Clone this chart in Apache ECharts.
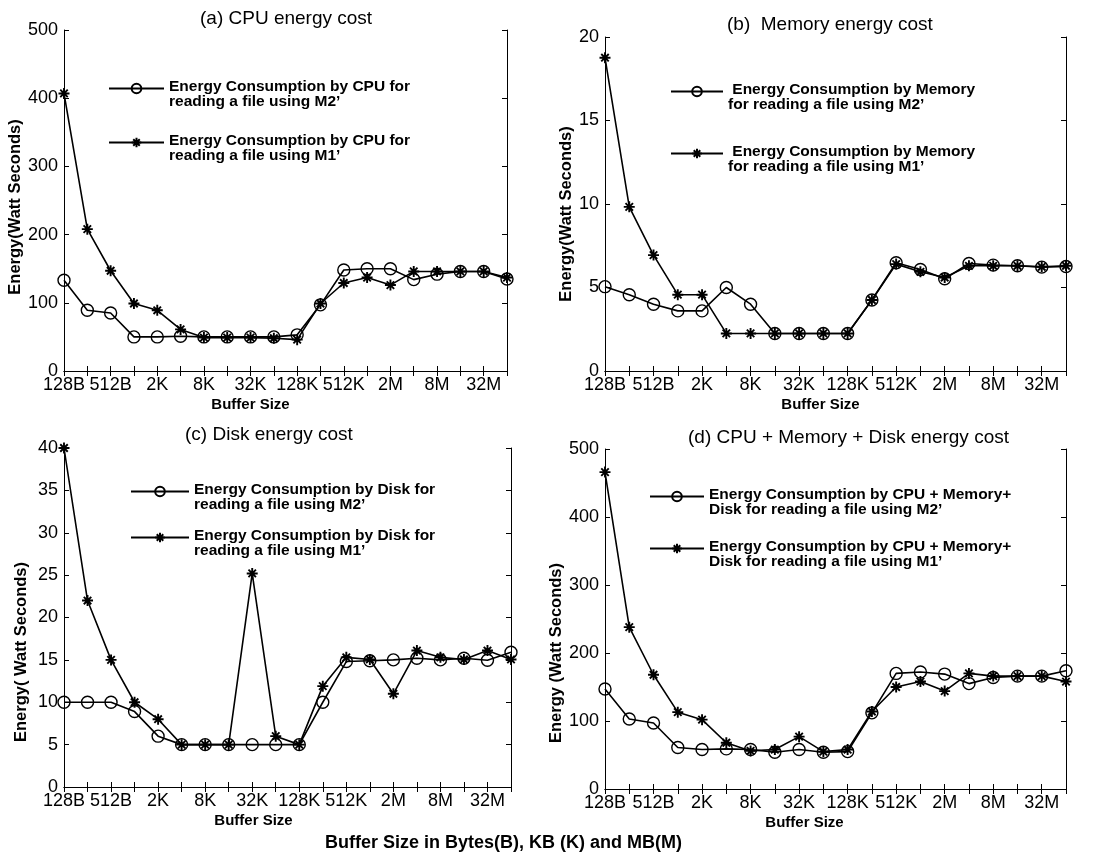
<!DOCTYPE html>
<html>
<head>
<meta charset="utf-8">
<script src="https://cdn.jsdelivr.net/npm/echarts@6/dist/echarts.min.js"></script>
<style>html,body{margin:0;padding:0;background:#fff}#c{width:1103px;height:861px}</style>
</head>
<body>
<div id="c"></div>
<script>
const categories = ['128B','256B','512B','1K','2K','4K','8K','16K','32K','64K','128K','256K','512K','1M','2M','4M','8M','16M','32M','64M'];

const cpuM2 = [133,89,85,50,50,51,50,50,50,50,53,97,148,150,150,134,142,146,146,135];
const cpuM1 = [407,208,147,99,89,61,49,49,49,48,46,99,129,137,126,146,146,146,146,137];
const memM2 = [5.05,4.57,4.0,3.6,3.6,5.0,4.0,2.25,2.25,2.25,2.25,4.25,6.48,6.08,5.52,6.44,6.34,6.3,6.22,6.26];
const memM1 = [18.76,9.83,6.94,4.57,4.57,2.25,2.25,2.25,2.25,2.25,2.25,4.25,6.4,5.94,5.6,6.3,6.3,6.3,6.24,6.3];
const diskM2 = [10,10,10,8.9,6.0,5,5,5,5,5,5,10,14.8,14.9,15.0,15.2,15.0,15.2,14.95,15.9];
const diskM1 = [40,22,15,10,8,5,5,5,25.2,6,5,11.9,15.3,15.05,11.0,16.1,15.3,15.05,16.1,15.05];
const totM2 = [147,103,97,61,58,59,58,54,58,54,55,112,170,172,169,155,164,166,166,174];
const totM1 = [466,238,168,113,102,68,56,58,77,55,58,114,150,158,144,170,166,166,166,158];

const yTicksA = {min:0, max:500, interval:100};
const yTicksB = {min:0, max:20, interval:5};
const yTicksC = {min:0, max:40, interval:5};
const yTicksD = {min:0, max:500, interval:100};

const panelTitles = ['(a) CPU energy cost','(b)  Memory energy cost','(c) Disk energy cost','(d) CPU + Memory + Disk energy cost'];
const legendNames = [
  ['Energy Consumption by CPU for\nreading a file using M2\u2019','Energy Consumption by CPU for\nreading a file using M1\u2019'],
  [' Energy Consumption by Memory\nfor reading a file using M2\u2019',' Energy Consumption by Memory\nfor reading a file using M1\u2019'],
  ['Energy Consumption by Disk for\nreading a file using M2\u2019','Energy Consumption by Disk for\nreading a file using M1\u2019'],
  ['Energy Consumption by CPU + Memory+\nDisk for reading a file using M2\u2019','Energy Consumption by CPU + Memory+\nDisk for reading a file using M1\u2019']
];
const yNames = ['Energy(Watt Seconds)','Energy(Watt Seconds)','Energy( Watt Seconds)','Energy (Watt Seconds)'];
const xName = 'Buffer Size';
const bottomTitle = 'Buffer Size in Bytes(B), KB (K) and MB(M)';

const seriesData = [[cpuM2,cpuM1],[memM2,memM1],[diskM2,diskM1],[totM2,totM1]];
const yScales = [yTicksA,yTicksB,yTicksC,yTicksD];

// layout
const grids = [
  {left:64, top:30, width:443, height:341},
  {left:605, top:37, width:461, height:334},
  {left:64, top:448, width:447, height:339},
  {left:605, top:449, width:461, height:340}
];
const titlePos = [{left:200,top:9},{left:727,top:15},{left:185,top:425},{left:688,top:428}];
const yNameGap = [39,28,34,38];
const yNameShift = [13,20,69,68];
const xNameShift = [70,30,68,62];
const legendPos = [
  {left:108,w:55,tops:[73,127]},
  {left:670,w:52,tops:[76,138]},
  {left:130,w:58,tops:[476,522]},
  {left:649,w:54,tops:[481,533]}
];

const FONT = 'Liberation Sans, Arial, sans-serif';
const starPath = 'path://M5,0L5,10M0,5L10,5M1.6,1.6L8.4,8.4M1.6,8.4L8.4,1.6';

const option = {
  animation:false,
  backgroundColor:'#fff',
  title:[], grid:[], xAxis:[], yAxis:[], series:[], legend:[]
};

function legendFormatter(name){
  return '{s| }\n' + name.split('\n').map(l => '{t|' + l + '}').join('\n');
}

for (let i=0;i<4;i++){
  option.title.push({text:panelTitles[i], left:titlePos[i].left, top:titlePos[i].top, padding:0,
    textStyle:{fontFamily:FONT, fontSize:19, fontWeight:'normal', color:'#000'}});
  option.grid.push(Object.assign({containLabel:false}, grids[i]));
  option.xAxis.push({type:'category', gridIndex:i, data:categories, boundaryGap:false, position:'bottom',
    axisLine:{lineStyle:{color:'#000',width:1}},
    axisTick:{inside:true, length:5, interval:0, lineStyle:{color:'#000'}},
    axisLabel:{interval:1, margin:5, color:'#000', fontFamily:FONT, fontSize:18},
    splitLine:{show:false},
    name:xName, nameLocation:'middle', nameGap:26,
    nameTextStyle:{fontFamily:FONT, fontSize:15, fontWeight:'bold', color:'#000', padding:[0,xNameShift[i],0,0]}
  });
  option.xAxis.push({type:'category', gridIndex:i, data:categories, boundaryGap:false, position:'top',
    axisLine:{lineStyle:{color:'#000',width:1}},
    axisTick:{inside:true, length:5, interval:0, lineStyle:{color:'#000'}},
    axisLabel:{show:false}, splitLine:{show:false}
  });
  const ys = yScales[i];
  option.yAxis.push({type:'value', gridIndex:i, min:ys.min, max:ys.max, interval:ys.interval, position:'left',
    axisLine:{show:true, lineStyle:{color:'#000',width:1}},
    axisTick:{show:true, inside:true, length:5, lineStyle:{color:'#000'}},
    axisLabel:{margin:6, color:'#000', fontFamily:FONT, fontSize:18},
    splitLine:{show:false},
    name:yNames[i], nameLocation:'middle', nameGap:yNameGap[i], nameRotate:90,
    nameTextStyle:{fontFamily:FONT, fontSize:16.5, fontWeight:'bold', color:'#000', padding:[0,yNameShift[i],0,0]}
  });
  option.yAxis.push({type:'value', gridIndex:i, min:ys.min, max:ys.max, interval:ys.interval, position:'right',
    axisLine:{show:true, lineStyle:{color:'#000',width:1}},
    axisTick:{show:true, inside:true, length:5, lineStyle:{color:'#000'}},
    axisLabel:{show:false}, splitLine:{show:false}
  });
  const [m2, m1] = seriesData[i];
  option.series.push({type:'line', name:legendNames[i][1], xAxisIndex:2*i, yAxisIndex:2*i, data:m1,
    symbol:starPath, symbolSize:11, showAllSymbol:true,
    lineStyle:{color:'#000', width:1.6},
    itemStyle:{color:'rgba(0,0,0,0)', borderColor:'#000', borderWidth:1.9}
  });
  option.series.push({type:'line', name:legendNames[i][0], xAxisIndex:2*i, yAxisIndex:2*i, data:m2,
    symbol:'circle', symbolSize:12, showAllSymbol:true,
    lineStyle:{color:'#000', width:1.6},
    itemStyle:{color:'rgba(0,0,0,0)', borderColor:'#000', borderWidth:1.4}
  });
  for (let k=0;k<2;k++){
    option.legend.push({data:[legendNames[i][k]], left:legendPos[i].left, top:legendPos[i].tops[k],
      padding:0, itemWidth:legendPos[i].w, itemHeight:12, selectedMode:false,
      formatter:legendFormatter,
      textStyle:{fontFamily:FONT, fontSize:15.5, fontWeight:'bold', color:'#000',
        rich:{
          s:{fontSize:1, lineHeight:12},
          t:{fontFamily:FONT, fontSize:15.5, fontWeight:'bold', color:'#000', lineHeight:15}
        }}
    });
  }
}
option.title.push({text:bottomTitle, left:325, top:834, padding:0,
  textStyle:{fontFamily:FONT, fontSize:18, fontWeight:'bold', color:'#000'}});

const chart = echarts.init(document.getElementById('c'), null, {renderer:'canvas'});
chart.setOption(option);
</script>
</body>
</html>
